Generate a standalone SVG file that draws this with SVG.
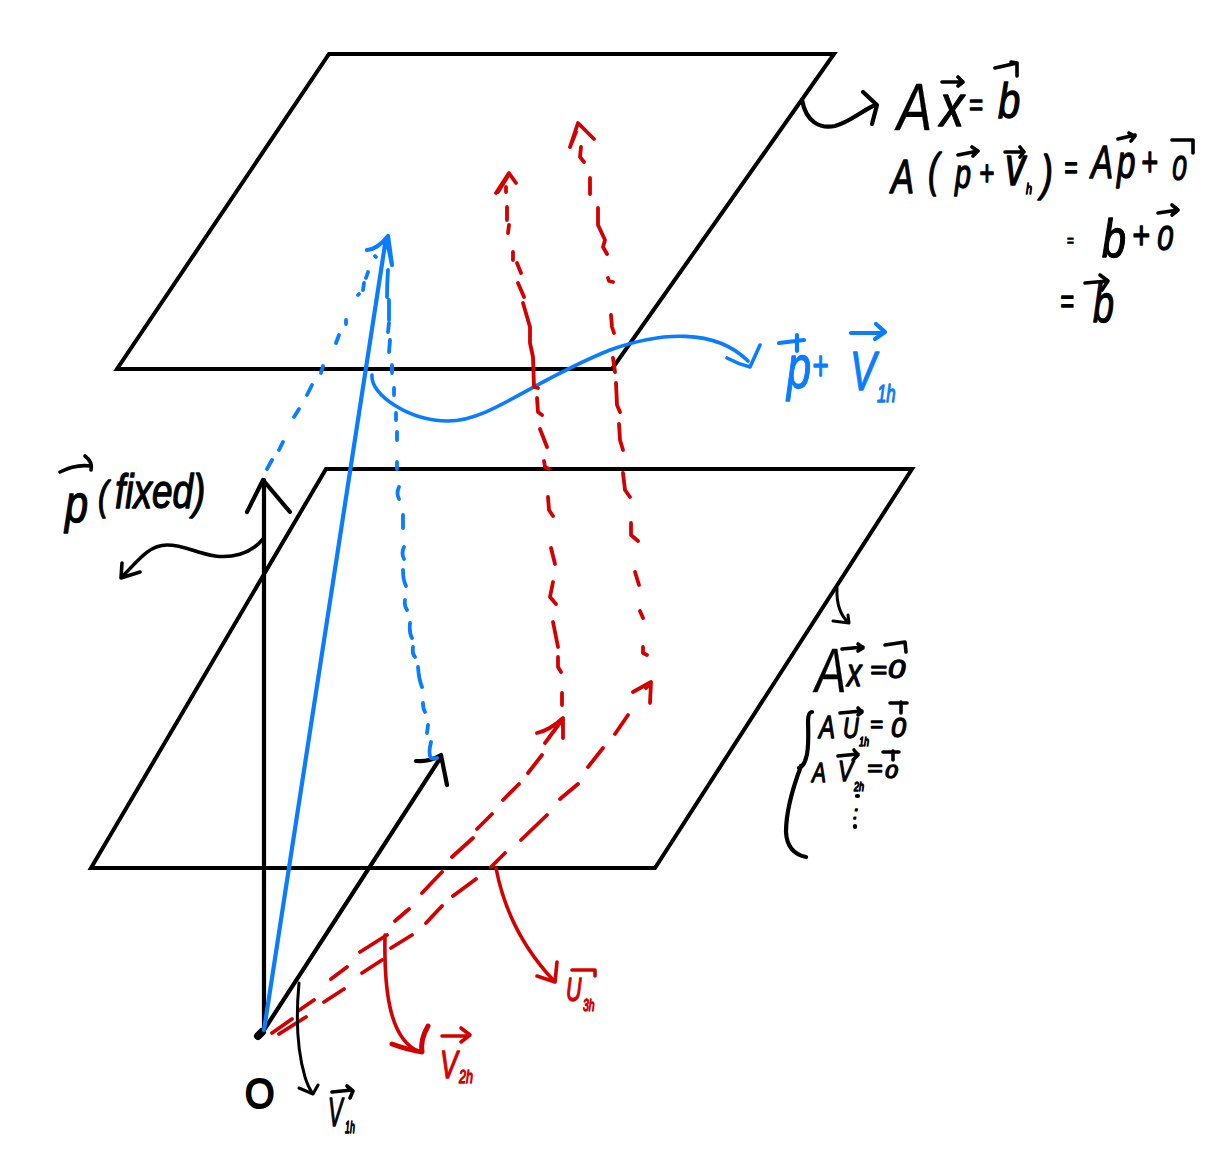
<svg xmlns="http://www.w3.org/2000/svg" width="1212" height="1155" viewBox="0 0 1212 1155">
<style>
path{fill:none;stroke-linecap:round;stroke-linejoin:round}
.k{stroke:#000}.r{stroke:#d40000}.b{stroke:#0a7cff}
.plane{stroke:#000;stroke-width:4;stroke-linejoin:miter}
.dash{stroke-width:3.8}
.dashb{stroke-width:3.8}
.w2{stroke-width:3}.w3{stroke-width:3.6}.w4{stroke-width:4.2}
text{font-family:"Liberation Sans",Arial,sans-serif;font-style:italic;stroke-width:1.3;stroke-linejoin:round}
.thin{stroke-width:.3}
.tk{fill:#000;stroke:#000}.tr{fill:#d40000;stroke:#d40000}.tb{fill:#0a7cff;stroke:#0a7cff}
</style>
<g id="plane-b"><path class="plane" d="M329 54H834L612 369H117Z"/></g>
<g id="plane-0"><path class="plane" d="M326 469H912L655 868H91Z"/></g>
<g id="connectors">
<path class="k w4" d="M264 1030V480M247 512L263 480L290 512"/>
<path class="k w4" d="M264 1030L441 757M416 761Q430 762 441 755L447 785"/>
<path class="k" stroke-width="8" d="M258 1036L262 1032"/>
<path class="b w4" d="M264 1030L386 238M367 250Q378 249 388 236L392 265L388 245"/>
<path class="b w3" d="M372 375C370 395 410 421 448 421C490 421 530 382 610 350C660 332 715 328 748 361M727 358Q738 364 750 367L760 345"/>
<path class="b dashb" d="M272 460L267 469M283 442L279 450M299 409L294 417M312 385L307 395M323 366L321 373M339 335L336 343M346 320V324M358 295L359 294M364 283L363 290M368 272L366 278M376 257L375 256"/>
<path class="b dashb" d="M388 270Q387 285 387 297M389 300V320M389 323L388 332M390 340L389 352M392 365V373M394 388V395M396 413V420M397 432V440M397 462V469M399 487Q396 493 399 499M403 515V528M404 547Q401 553 404 559M403 570Q403 580 406 586M405 600Q404 606 407 610M410 623Q409 633 412 638M413 647Q412 654 415 657M418 667Q419 680 422 687M423 703Q423 709 425 712M428 725L427 733M431 742Q428 754 431 758Q435 759 437 758"/>
<path class="r dash" d="M496 193L509 173L516 183M498 192L508 176M506 187V192M507 207V220M509 225L508 233M513 252V260M517 263L521 273M518 283L524 297M523 303L530 327V343L533 357L534 387L538 388M537 398L538 412L542 415M540 429L547 447M544 461L545 467L549 469M548 497L549 510L553 516M551 548L555 564M553 582L550 597L556 604M553 622L558 647M558 657L558 667L561 672M562 693V705"/>
<path class="r dash" d="M570 147L578 123L594 139M570 147L576 132M581 147L580 157L584 162M590 178V194M598 208V225L605 240L603 247L607 254M608 278L609 281L613 282M611 315L612 327L614 333M613 358L615 372M616 383L617 405L620 412M619 424L620 440L623 450M623 473L625 490L630 497M631 523V535L638 541M635 572L639 585M640 611L643 618M643 647V653L647 655"/>
<path class="r dash" d="M272 1033L292 1019M298 1011L314 1000M331 979L347 967M360 952L387 935M395 921L409 909M422 893L442 872M452 857L473 838M477 829L492 814M503 800L519 784M528 773L542 755M545 743L562 720M537 733Q550 730 563 718L563 738"/>
<path class="r dash" d="M279 1034L306 1017M324 1002L344 989M362 973L382 960M391 948L412 935M426 923L442 906M453 896L476 879M491 867L505 853M521 840L547 815M560 799L578 784M588 767L603 748M615 734L628 715M633 692L651 682L650 703M646 688L650 683"/>
<path class="k w2" d="M299 983C296 1015 297 1050 305 1077Q308 1087 313 1094M299 1088L313 1094L318 1085"/>
<path class="r w3" d="M385 935C384 985 388 1040 420 1052"/>
<path class="r" stroke-width="5" d="M392 1044Q408 1050 422 1052Q420 1040 428 1026"/>
<path class="r w3" d="M496 868C503 905 520 945 555 982M537 976L555 982L557 962"/>
<path class="k w2" d="M837 588Q836 612 849 623M833 621L849 623L848 615"/>
<path class="k w4" d="M802 100C806 122 820 129 835 126C850 122 860 112 875 105M863 92L877 105L872 124"/>
<path class="k w3" d="M263 539C250 555 230 558 215 556C195 553 185 545 167 545C150 545 140 558 122 577M122 563L121 578L140 572"/>
</g>
<g id="eq-ax-b">
<text class="tk" transform="scale(.8 1)" font-size="66"><tspan class="thin" x="1121.2" y="130">A</tspan><tspan x="1175" y="126" font-size="60">x</tspan><tspan x="1211" y="115" font-size="30">=</tspan><tspan x="1247.5" y="118" font-size="50">b</tspan></text>
<path class="k w3" d="M942 82H963M958 77L963 82L958 86M995 68L1017 63V76M1011 62L1017 63"/>
<text class="tk" transform="scale(.72 1)" font-size="48"><tspan x="1237.5" y="193">A</tspan><tspan x="1288.9" y="186" font-size="46">(</tspan><tspan x="1326.4" y="188" font-size="40">p</tspan><tspan x="1359.7" y="185" font-size="36">+</tspan><tspan x="1395.8" y="185" font-size="56">v</tspan><tspan x="1425" y="194" font-size="15">h</tspan><tspan x="1445.8" y="190" font-size="50">)</tspan><tspan x="1477.8" y="178" font-size="32">=</tspan><tspan x="1515.3" y="178" font-size="46">A</tspan><tspan x="1551.4" y="178" font-size="46">p</tspan><tspan x="1584.7" y="176" font-size="40">+</tspan><tspan x="1627.8" y="180" font-size="36">0</tspan></text>
<path class="k w3" d="M958 155L978 151M972 147L978 151L973 156M1005 152H1024M1020 147L1024 152L1020 157M1118 139L1135 135M1129 133L1135 136L1131 141M1172 140H1193V153"/>
<text class="tk" transform="scale(.8 1)" font-size="40"><tspan x="1333.8" y="246" font-size="14">=</tspan><tspan x="1377.5" y="257" font-size="54">b</tspan><tspan x="1415" y="248" font-size="38">+</tspan><tspan x="1446.3" y="250" font-size="36">0</tspan></text>
<path class="k w3" d="M1158 213L1178 210M1172 205L1178 210L1172 215"/>
<text class="tk" transform="scale(.7 1)" font-size="50"><tspan x="1514.3" y="313" font-size="34">=</tspan><tspan x="1561.4" y="322" font-size="54">b</tspan></text>
<path class="k w3" d="M1085 283L1108 281M1100 275L1108 281L1102 290"/>
</g>
<g id="eq-ax-0">
<text class="tk" transform="scale(.75 1)" font-size="63"><tspan class="thin" x="1086.7" y="692">A</tspan><tspan x="1129.3" y="686" font-size="39">x</tspan></text>
<text class="tk" transform="scale(1.2 1)" font-size="24"><tspan x="725" y="678">=</tspan><tspan x="740" y="678" font-size="26">0</tspan></text>
<path class="k w3" d="M842 649L863 647M858 644L863 648L858 651M885 645L905 642L906 652"/>
<text class="tk" transform="scale(.75 1)" font-size="32"><tspan x="1092" y="738">A</tspan><tspan x="1124" y="738" font-size="29">U</tspan><tspan x="1145.3" y="746" font-size="12">1h</tspan></text>
<text class="tk" font-size="22"><tspan x="870" y="732">=</tspan><tspan x="891" y="737" font-size="27">0</tspan></text>
<path class="k w3" d="M840 713L862 711M858 708L862 712L858 715M890 703H907M901 702V713"/>
<text class="tk" transform="scale(.75 1)" font-size="28"><tspan x="1082.7" y="782">A</tspan><tspan x="1117.3" y="781" font-size="30">V</tspan><tspan x="1138.7" y="791" font-size="12">2h</tspan></text>
<text class="tk" transform="scale(1.2 1)" font-size="22"><tspan x="722.5" y="776">=</tspan><tspan x="737.5" y="778" font-size="19">0</tspan></text>
<path class="k w3" d="M838 756L858 754M854 750L858 755L853 760M883 752H899M893 751V760"/>
<path class="k w4" d="M812 712Q808 712 808 722Q809 750 806 758Q804 766 799 768M801 766C792 790 786 815 786 832Q787 853 806 857"/>
<text class="tk" x="853" y="819" font-size="18">:</text>
<path class="k w4" d="M857 796H858M855 826V827"/>
</g>
<g id="label-p-fixed">
<text class="tk" transform="scale(.77 1)" font-size="50"><tspan x="84.4" y="522" font-size="54">p</tspan><tspan x="127.3" y="510" font-size="40">(</tspan><tspan x="149.4" y="508" font-size="48">fixed)</tspan></text>
<path class="k w3" d="M60 472Q75 464 91 466M85 456Q93 462 91 470"/>
</g>
<g id="label-p-v1h">
<text class="tb" transform="scale(.7 1)" font-size="50"><tspan x="1124.3" y="388" font-size="62">p</tspan><tspan x="1160" y="380" font-size="40">+</tspan><tspan x="1214.3" y="390" font-size="56">V</tspan><tspan x="1252.9" y="402" font-size="24">1h</tspan></text>
<path class="b w4" d="M779 343L804 340M797 335V351M851 333H884M876 324L885 332L875 339"/>
</g>
<g id="label-o"><text class="tk" transform="scale(.9 1)" x="272.2" y="1108" font-size="42" style="font-style:normal;stroke-width:2">O</text></g>
<g id="label-v1h">
<text class="tk" transform="scale(.55 1)" font-size="40"><tspan x="596.4" y="1126">V</tspan><tspan x="627.3" y="1133" font-size="16">1h</tspan></text>
<path class="k w3" d="M332 1092L352 1090M347 1086L353 1091L350 1098"/>
</g>
<g id="label-v2h">
<text class="tr" transform="scale(.7 1)" font-size="38"><tspan x="628.6" y="1078">V</tspan><tspan x="655.7" y="1083" font-size="18">2h</tspan></text>
<path class="r w3" d="M442 1036H469M461 1028L470 1035L461 1042"/>
</g>
<g id="label-v3h">
<text class="tr" transform="scale(.65 1)" font-size="33"><tspan x="870.8" y="1001">U</tspan><tspan x="896.9" y="1011" font-size="16">3h</tspan></text>
<path class="r w3" d="M572 970H595V976"/>
</g>
</svg>
